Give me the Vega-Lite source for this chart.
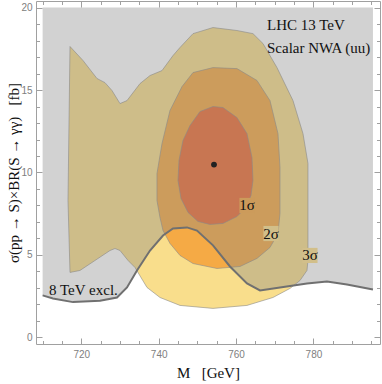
{
  "$schema": "https://vega.github.io/schema/vega-lite/v6.json",
  "width": 344,
  "height": 343,
  "autosize": "none",
  "padding": {"left": 36, "top": 1, "right": 2, "bottom": 40},
  "background": "white",
  "config": {
    "view": {"stroke": null},
    "axis": {
      "grid": false,
      "domainColor": "#a0a0a0",
      "tickColor": "#a0a0a0",
      "labelFont": "Liberation Sans",
      "labelFontSize": 10,
      "labelColor": "#808080",
      "titleFont": "Liberation Serif",
      "titleFontSize": 15,
      "titleFontWeight": "normal",
      "titleColor": "#111111"
    }
  },
  "datasets": {
    "c3": [
      {"i": 0, "M": 717.08, "s": 3.94},
      {"i": 1, "M": 716.56, "s": 8.30},
      {"i": 2, "M": 717.08, "s": 17.64},
      {"i": 3, "M": 720.44, "s": 16.79},
      {"i": 4, "M": 724.06, "s": 15.70},
      {"i": 5, "M": 726.12, "s": 15.45},
      {"i": 6, "M": 727.93, "s": 14.97},
      {"i": 7, "M": 730.00, "s": 14.18},
      {"i": 8, "M": 731.81, "s": 14.36},
      {"i": 9, "M": 735.17, "s": 15.39},
      {"i": 10, "M": 737.76, "s": 15.88},
      {"i": 11, "M": 740.86, "s": 16.18},
      {"i": 12, "M": 743.70, "s": 17.09},
      {"i": 13, "M": 745.51, "s": 17.58},
      {"i": 14, "M": 748.87, "s": 18.42},
      {"i": 15, "M": 754.04, "s": 18.79},
      {"i": 16, "M": 760.24, "s": 18.61},
      {"i": 17, "M": 764.38, "s": 18.42},
      {"i": 18, "M": 766.96, "s": 17.82},
      {"i": 19, "M": 770.58, "s": 16.36},
      {"i": 20, "M": 774.72, "s": 14.36},
      {"i": 21, "M": 777.30, "s": 12.36},
      {"i": 22, "M": 778.59, "s": 10.55},
      {"i": 23, "M": 778.59, "s": 4.67},
      {"i": 24, "M": 778.34, "s": 4.06},
      {"i": 25, "M": 776.53, "s": 3.45},
      {"i": 26, "M": 773.94, "s": 2.97},
      {"i": 27, "M": 769.55, "s": 2.42},
      {"i": 28, "M": 762.82, "s": 1.94},
      {"i": 29, "M": 754.04, "s": 1.76},
      {"i": 30, "M": 745.51, "s": 1.94},
      {"i": 31, "M": 740.34, "s": 2.42},
      {"i": 32, "M": 736.98, "s": 3.03},
      {"i": 33, "M": 733.88, "s": 4.24},
      {"i": 34, "M": 732.07, "s": 4.67},
      {"i": 35, "M": 730.00, "s": 5.27},
      {"i": 36, "M": 728.71, "s": 5.39},
      {"i": 37, "M": 727.42, "s": 5.27},
      {"i": 38, "M": 719.66, "s": 4.06}
    ],
    "c2": [
      {"i": 0, "M": 746.03, "s": 15.21},
      {"i": 1, "M": 742.92, "s": 13.76},
      {"i": 2, "M": 740.86, "s": 11.76},
      {"i": 3, "M": 739.56, "s": 9.94},
      {"i": 4, "M": 739.56, "s": 8.30},
      {"i": 5, "M": 740.34, "s": 7.27},
      {"i": 6, "M": 741.12, "s": 6.48},
      {"i": 7, "M": 742.92, "s": 5.70},
      {"i": 8, "M": 745.51, "s": 4.97},
      {"i": 9, "M": 748.87, "s": 4.48},
      {"i": 10, "M": 755.07, "s": 4.18},
      {"i": 11, "M": 761.02, "s": 4.30},
      {"i": 12, "M": 765.41, "s": 4.79},
      {"i": 13, "M": 768.77, "s": 5.45},
      {"i": 14, "M": 770.84, "s": 6.30},
      {"i": 15, "M": 771.36, "s": 7.52},
      {"i": 16, "M": 771.36, "s": 10.30},
      {"i": 17, "M": 770.84, "s": 12.36},
      {"i": 18, "M": 768.77, "s": 14.36},
      {"i": 19, "M": 765.41, "s": 15.58},
      {"i": 20, "M": 760.24, "s": 16.30},
      {"i": 21, "M": 754.04, "s": 16.36},
      {"i": 22, "M": 748.87, "s": 16.06}
    ],
    "c1": [
      {"i": 0, "M": 754.04, "s": 14.00},
      {"i": 1, "M": 756.62, "s": 13.94},
      {"i": 2, "M": 760.24, "s": 13.33},
      {"i": 3, "M": 762.83, "s": 12.36},
      {"i": 4, "M": 764.12, "s": 10.91},
      {"i": 5, "M": 764.38, "s": 9.52},
      {"i": 6, "M": 763.86, "s": 8.61},
      {"i": 7, "M": 762.57, "s": 7.88},
      {"i": 8, "M": 760.24, "s": 7.33},
      {"i": 9, "M": 756.62, "s": 6.91},
      {"i": 10, "M": 753.26, "s": 6.85},
      {"i": 11, "M": 750.16, "s": 7.03},
      {"i": 12, "M": 747.58, "s": 7.58},
      {"i": 13, "M": 745.77, "s": 8.42},
      {"i": 14, "M": 744.99, "s": 9.52},
      {"i": 15, "M": 745.25, "s": 10.73},
      {"i": 16, "M": 746.28, "s": 11.94},
      {"i": 17, "M": 748.09, "s": 12.85},
      {"i": 18, "M": 750.68, "s": 13.70}
    ],
    "excl": [
      {"M": 710.0, "s": 2.55},
      {"M": 712.68, "s": 2.36},
      {"M": 717.85, "s": 2.14},
      {"M": 724.83, "s": 2.22},
      {"M": 729.23, "s": 2.42},
      {"M": 731.81, "s": 3.03},
      {"M": 734.39, "s": 4.06},
      {"M": 737.76, "s": 5.27},
      {"M": 741.12, "s": 6.18},
      {"M": 743.70, "s": 6.61},
      {"M": 747.32, "s": 6.67},
      {"M": 749.90, "s": 6.48},
      {"M": 754.04, "s": 5.58},
      {"M": 758.43, "s": 4.30},
      {"M": 762.83, "s": 3.27},
      {"M": 766.19, "s": 2.85},
      {"M": 771.36, "s": 3.03},
      {"M": 778.33, "s": 3.27},
      {"M": 783.50, "s": 3.39},
      {"M": 788.67, "s": 3.21},
      {"M": 795.39, "s": 2.91}
    ],
    "best": [{"M": 754.3, "s": 10.48}],
    "notes": [
      {"t": "LHC 13 TeV", "M": 768.0, "s": 18.97},
      {"t": "Scalar NWA (uu)", "M": 768.0, "s": 17.52},
      {"t": "8 TeV excl.", "M": 711.65, "s": 2.85}
    ],
    "sig": [
      {"t": "1σ", "M": 762.83, "s": 8.0},
      {"t": "2σ", "M": 769.03, "s": 6.30},
      {"t": "3σ", "M": 779.1, "s": 4.97}
    ]
  },
  "resolve": {"axis": {"x": "independent", "y": "independent"}},
  "layer": [
    {
      "data": {"name": "c3"},
      "mark": {"type": "line", "interpolate": "linear-closed", "fill": "#F9DE8C", "stroke": "#8c8c8c", "strokeWidth": 1, "strokeOpacity": 0.6},
      "encoding": {
        "x": {"field": "M", "type": "quantitative", "scale": {"domain": [708.29, 797.21], "zero": false, "nice": false},
              "axis": {"orient": "bottom", "values": [720, 740, 760, 780], "tickSize": -6, "labelPadding": 11.5, "title": "M\u00a0\u00a0\u00a0[GeV]", "titleY": 28, "titleBaseline": "middle"}},
        "y": {"field": "s", "type": "quantitative", "scale": {"domain": [-0.4, 20.4], "zero": false, "nice": false},
              "axis": {"orient": "left", "values": [0, 5, 10, 15, 20], "tickSize": -6, "labelPadding": 10, "title": "σ(pp → S)×BR(S → γγ)\u00a0\u00a0\u00a0[fb]", "titleX": -23, "titleBaseline": "middle"}},
        "order": {"field": "i", "type": "quantitative"}
      }
    },
    {
      "data": {"name": "c2"},
      "mark": {"type": "line", "interpolate": "linear-closed", "fill": "#F5AA45", "stroke": "#8c8c8c", "strokeWidth": 1, "strokeOpacity": 0.6},
      "encoding": {
        "x": {"field": "M", "type": "quantitative", "scale": {"domain": [708.29, 797.21], "zero": false, "nice": false},
              "axis": {"orient": "bottom", "values": [710, 715, 725, 730, 735, 745, 750, 755, 765, 770, 775, 785, 790, 795], "tickSize": -3.5, "labels": false, "domain": false, "title": null}},
        "y": {"field": "s", "type": "quantitative", "scale": {"domain": [-0.4, 20.4], "zero": false, "nice": false},
              "axis": {"orient": "left", "values": [1, 2, 3, 4, 6, 7, 8, 9, 11, 12, 13, 14, 16, 17, 18, 19], "tickSize": -3.5, "labels": false, "domain": false, "title": null}},
        "order": {"field": "i", "type": "quantitative"}
      }
    },
    {
      "data": {"name": "c1"},
      "mark": {"type": "line", "interpolate": "linear-closed", "fill": "#EF6E35", "stroke": "#8c8c8c", "strokeWidth": 1, "strokeOpacity": 0.6},
      "encoding": {
        "x": {"field": "M", "type": "quantitative", "scale": {"domain": [708.29, 797.21], "zero": false, "nice": false},
              "axis": {"orient": "top", "values": [720, 740, 760, 780], "tickSize": -6, "labels": false, "title": null}},
        "y": {"field": "s", "type": "quantitative", "scale": {"domain": [-0.4, 20.4], "zero": false, "nice": false},
              "axis": {"orient": "right", "values": [0, 5, 10, 15, 20], "tickSize": -6, "labels": false, "title": null}},
        "order": {"field": "i", "type": "quantitative"}
      }
    },
    {
      "data": {"name": "excl"},
      "mark": {"type": "area", "color": "#868686", "opacity": 0.37},
      "encoding": {
        "x": {"field": "M", "type": "quantitative", "scale": {"domain": [708.29, 797.21], "zero": false, "nice": false},
              "axis": {"orient": "top", "values": [710, 715, 725, 730, 735, 745, 750, 755, 765, 770, 775, 785, 790, 795], "tickSize": -3.5, "labels": false, "domain": false, "title": null}},
        "y": {"field": "s", "type": "quantitative", "scale": {"domain": [-0.4, 20.4], "zero": false, "nice": false},
              "axis": {"orient": "right", "values": [1, 2, 3, 4, 6, 7, 8, 9, 11, 12, 13, 14, 16, 17, 18, 19], "tickSize": -3.5, "labels": false, "domain": false, "title": null}},
        "y2": {"datum": 20}
      }
    },
    {
      "data": {"name": "excl"},
      "mark": {"type": "line", "color": "#707070", "strokeWidth": 2},
      "encoding": {
        "x": {"field": "M", "type": "quantitative", "axis": null},
        "y": {"field": "s", "type": "quantitative", "axis": null}
      }
    },
    {
      "data": {"name": "best"},
      "mark": {"type": "point", "filled": true, "color": "#222222", "opacity": 1, "size": 34},
      "encoding": {
        "x": {"field": "M", "type": "quantitative", "axis": null},
        "y": {"field": "s", "type": "quantitative", "axis": null}
      }
    },
    {
      "data": {"name": "sig"},
      "mark": {"type": "point", "shape": "square", "filled": true, "opacity": 1, "size": 230},
      "encoding": {
        "x": {"field": "M", "type": "quantitative", "axis": null},
        "y": {"field": "s", "type": "quantitative", "axis": null},
        "color": {"field": "t", "type": "nominal", "legend": null,
                  "scale": {"domain": ["1σ", "2σ", "3σ"], "range": ["#CC9B5B", "#D2BF8A", "#D2BF8A"]}}
      }
    },
    {
      "data": {"name": "sig"},
      "mark": {"type": "text", "font": "Liberation Serif", "fontSize": 15, "color": "#111111", "align": "center", "baseline": "middle"},
      "encoding": {
        "x": {"field": "M", "type": "quantitative", "axis": null},
        "y": {"field": "s", "type": "quantitative", "axis": null},
        "text": {"field": "t"}
      }
    },
    {
      "data": {"name": "notes"},
      "mark": {"type": "text", "font": "Liberation Serif", "fontSize": 15, "color": "#111111", "align": "left", "baseline": "middle"},
      "encoding": {
        "x": {"field": "M", "type": "quantitative", "axis": null},
        "y": {"field": "s", "type": "quantitative", "axis": null},
        "text": {"field": "t"}
      }
    }
  ]
}
